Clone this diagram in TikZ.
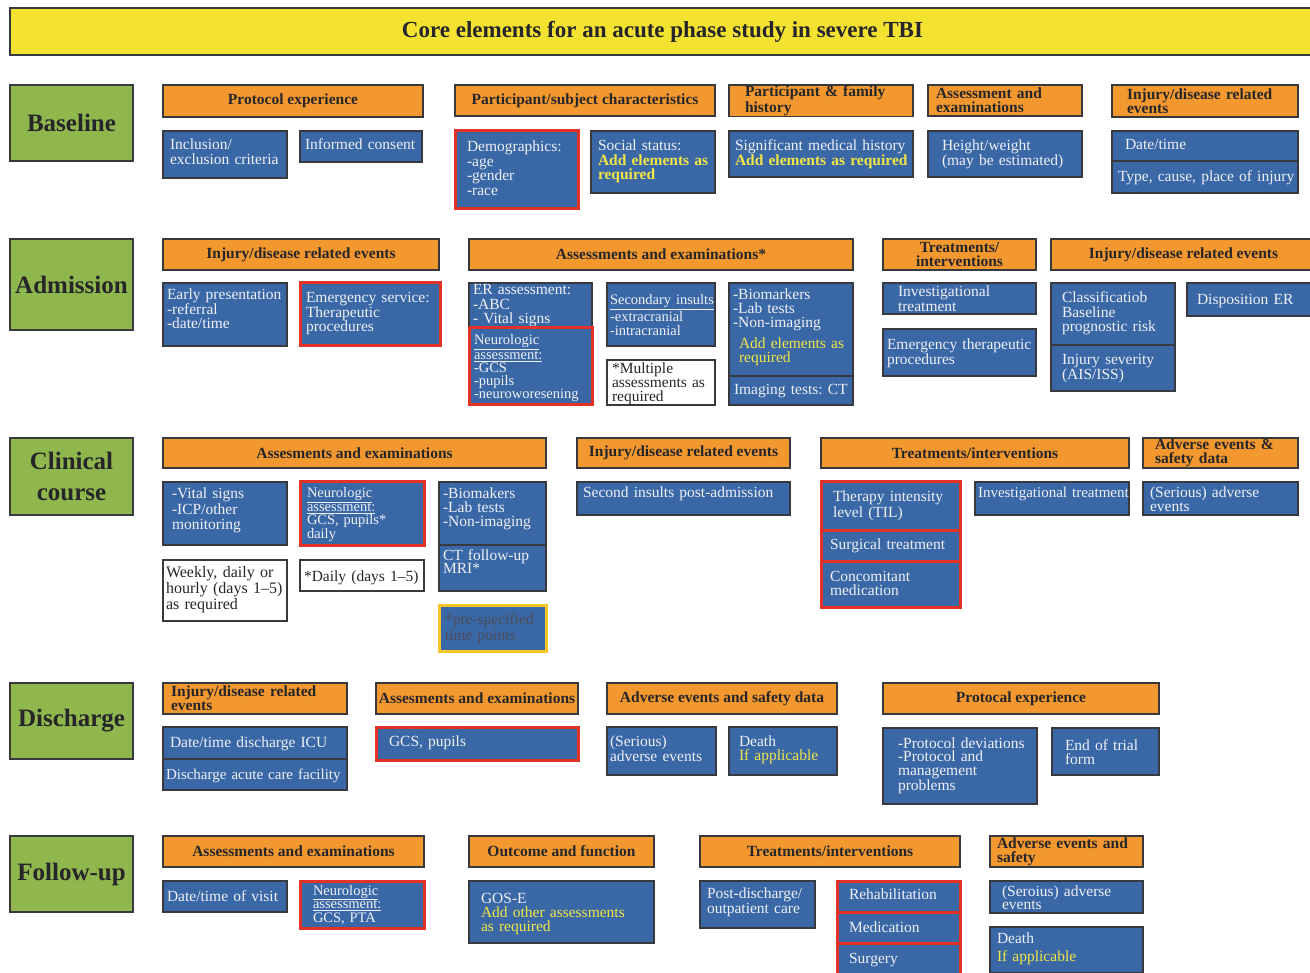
\documentclass[tikz,border=0pt]{standalone}
\usepackage{fontspec}
\setmainfont{Liberation Serif}
\usepackage{tikz}
\usetikzlibrary{positioning}

\definecolor{titleyellow}{RGB}{244,226,48}
\definecolor{phasegreen}{RGB}{143,183,77}
\definecolor{hdrorange}{RGB}{242,152,46}
\definecolor{cellblue}{RGB}{58,104,166}
\definecolor{markred}{RGB}{228,50,40}
\definecolor{addyellow}{RGB}{242,230,70}
\definecolor{timeyellow}{RGB}{246,198,40}
\definecolor{edgegray}{RGB}{55,57,62}
\definecolor{inkdark}{RGB}{38,38,42}
\definecolor{inkgray}{RGB}{75,78,88}
\definecolor{inkwhite}{RGB}{238,240,246}

\tikzset{
    titlebar/.style={draw=edgegray, line width=1.5pt, fill=titleyellow, anchor=north west, minimum width=1305pt, minimum height=47pt, font=\fontsize{23}{28}\selectfont\bfseries, text=inkdark, outer sep=0pt},
    phase/.style={draw=edgegray, line width=1.2pt, fill=phasegreen, anchor=north west, minimum width=123pt, minimum height=#1pt, font=\fontsize{25}{31}\selectfont\bfseries, text=inkdark, align=center, inner sep=1pt, outer sep=0pt},
    hdr/.style 2 args={draw=edgegray, line width=1.2pt, fill=hdrorange, anchor=north west, minimum width=#1pt, minimum height=#2pt, font=\fontsize{15.5}{14}\selectfont\bfseries, text=inkdark, align=center, inner xsep=2pt, inner ysep=1pt, outer sep=0pt},
    cell/.style n args={3}{draw=edgegray, line width=1.2pt, fill=cellblue, anchor=north west, minimum width=#1pt, text width=#1pt-6pt, align=left, text height=#3pt, text depth=#2pt-#3pt-6pt, inner xsep=0pt, inner ysep=3pt, font=\fontsize{15.5}{14.5}\selectfont, text=inkwhite, outer sep=0pt, lpad=0},
    lpad/.style={execute at begin node={\frenchspacing\leftskip=#1pt\rightskip=-40pt plus 1fil\hyphenpenalty=10000}},
    marked/.style={draw=markred, line width=3pt},
    plain/.style={fill=white, text=inkdark},
    timed/.style={draw=timeyellow, line width=3pt, text=inkgray}
}

\begin{document}
\begin{tikzpicture}[x=1pt, y=-1pt]
        \fill[white] (0,0) rectangle (1310,973);
        \useasboundingbox (0,0) rectangle (1310,973);
        \node[titlebar] (title) at (10,8) {Core elements for an acute phase study in severe TBI};
        \node[phase=76] (base) at (10,85) {Baseline};
        \node[phase=91] (adm) at (10,239) {Admission};
        \node[phase=77] (clin) at (10,438) {Clinical\\course};
        \node[phase=76] (dis) at (10,683) {Discharge};
        \node[phase=76] (fup) at (10,836) {Follow-up};

        \node[hdr={260}{32}] (bprot) at (163,85) {Protocol experience};
        \node[cell={124}{47}{16}, lpad=4] (bincl) at (163,131) {Inclusion/\\exclusion criteria};
        \node[cell={122}{31}{16}, lpad=2] (bcons) at (300,131) {Informed consent};
        \node[hdr={260}{31}] (bpart) at (455,85) {Participant/subject characteristics};
        \node[cell={123}{78}{18}, marked, lpad=9] (bdemo) at (455,131) {Demographics:\\-age\\-gender\\-race};
        \node[cell={124}{62}{17}, lpad=4] (bsoc) at (591,131) {Social status:\\{\bfseries\color{addyellow}Add elements as\\required}};
        \node[hdr={184}{31}, text width=152pt, align=left] (bfam) at (729,85) {Participant \& family\\history};
        \node[cell={184}{46}{17}, lpad=3] (bhist) at (729,131) {Significant medical history\\{\bfseries\color{addyellow}Add elements as required}};
        \node[hdr={154}{31}, text width=138pt, align=left] (bass) at (928,85) {Assessment and\\examinations};
        \node[cell={154}{46}{17}, lpad=11] (bhw) at (928,131) {Height/weight\\(may be estimated)};
        \node[hdr={186}{32}, text width=156pt, align=left] (binj) at (1112,85) {Injury/disease related\\events};
        \node[cell={186}{30}{16}, lpad=10] (bdate) at (1112,131) {Date/time};
        \node[cell={186}{32}{18}, lpad=3, below=0pt of bdate] (btype) {Type, cause, place of injury};

        \node[hdr={276}{31}] (ainj) at (163,239) {Injury/disease related events};
        \node[cell={124}{63}{14}, lpad=1] (aearly) at (163,283) {Early presentation\\-referral\\-date/time};
        \node[cell={140}{63}{17}, marked, lpad=3] (aemerg) at (300,283) {Emergency service:\\Therapeutic\\procedures};
        \node[hdr={384}{31}] (aass) at (469,239) {Assessments and examinations*};
        \node[cell={123}{45}{9}, lpad=1] (aer) at (469,283) {ER assessment:\\-ABC\\- Vital signs};
        \node[cell={123}{77}{14}, marked, lpad=2, font=\fontsize{14.5}{13.2}\selectfont, below=0pt of aer] (aneuro) {\underline{Neurologic}\\\underline{assessment:}\\-GCS\\-pupils\\-neuroworesening};
        \node[cell={108}{63}{19}, lpad=0, font=\fontsize{14.5}{14}\selectfont] (asec) at (607,283) {\underline{Secondary insults}\\-extracranial\\-intracranial};
        \node[cell={108}{45}{11}, plain, lpad=2, font=\fontsize{15.5}{14}\selectfont] (amult) at (607,360) {*Multiple\\assessments as\\required};
        \node[cell={124}{93}{14}, lpad=1, font=\fontsize{15.5}{14}\selectfont] (abio) at (729,283) {-Biomarkers\\-Lab tests\\-Non-imaging\\[5pt]\hspace*{6pt}{\color{addyellow}Add elements as\\\hspace*{6pt}required}};
        \node[cell={124}{29}{16}, lpad=2, below=0pt of abio] (aimg) {Imaging tests: CT};
        \node[hdr={153}{31}] (atreat) at (883,239) {Treatments/\\interventions};
        \node[cell={153}{31}{11}, lpad=12] (ainv) at (883,283) {Investigational\\treatment};
        \node[cell={153}{47}{18}, lpad=1] (aemth) at (883,329) {Emergency therapeutic\\procedures};
        \node[hdr={265}{31}] (ainj2) at (1051,239) {Injury/disease related events};
        \node[cell={124}{62}{17}, lpad=8] (acls) at (1051,283) {Classificatiob\\Baseline\\prognostic risk};
        \node[cell={124}{46}{17}, lpad=8, below=0pt of acls] (asev) {Injury severity\\(AIS/ISS)};
        \node[cell={130}{33}{19}, lpad=7] (adisp) at (1187,283) {Disposition ER};

        \node[hdr={383}{30}] (cass) at (163,438) {Assesments and examinations};
        \node[cell={124}{63}{14}, lpad=6, font=\fontsize{15.5}{15.5}\selectfont] (cvit) at (163,482) {-Vital signs\\-ICP/other\\monitoring};
        \node[cell={124}{63}{13}, marked, lpad=4, font=\fontsize{14.5}{13.5}\selectfont] (cneuro) at (300,482) {\underline{Neurologic}\\\underline{assessment:}\\GCS, pupils*\\daily};
        \node[cell={107}{63}{14}, lpad=1, font=\fontsize{15.5}{14}\selectfont] (cbio) at (439,482) {-Biomakers\\-Lab tests\\-Non-imaging};
        \node[cell={107}{46}{12}, lpad=1, font=\fontsize{15.5}{13.5}\selectfont, below=0pt of cbio] (cct) {CT follow-up\\MRI*};
        \node[cell={124}{61}{14}, plain, lpad=0, font=\fontsize{16}{16}\selectfont] (cweek) at (163,560) {Weekly, daily or\\hourly (days 1--5)\\as required};
        \node[cell={124}{31}{18}, plain, lpad=1, font=\fontsize{15.5}{16}\selectfont] (cdaily) at (300,560) {*Daily (days 1--5)};
        \node[cell={107}{46}{16}, timed, lpad=3, font=\fontsize{15.5}{16}\selectfont] (cpre) at (439,605) {*pre-specified\\time points};
        \node[hdr={213}{30}] (cinj) at (577,438) {Injury/disease related events};
        \node[cell={213}{33}{13}, lpad=3] (csec) at (577,482) {Second insults post-admission};
        \node[hdr={308}{30}] (ctreat) at (821,438) {Treatments/interventions};
        \node[cell={139}{48}{17}, marked, lpad=9, font=\fontsize{15.5}{14}\selectfont] (ctil) at (821,482) {Therapy intensity\\level (TIL)};
        \node[cell={139}{31}{16}, marked, lpad=6, below=0pt of ctil] (csurg) {Surgical treatment};
        \node[cell={139}{46}{17}, marked, lpad=6, font=\fontsize{15.5}{14}\selectfont, below=0pt of csurg] (cconc) {Concomitant\\medication};
        \node[cell={154}{33}{13}, lpad=0, font=\fontsize{15}{14}\selectfont] (cinv) at (975,482) {Investigational treatment};
        \node[hdr={155}{30}, text width=131pt, align=left] (cadv) at (1143,438) {Adverse events \&\\safety data};
        \node[cell={155}{33}{12}, lpad=4, font=\fontsize{15.5}{14}\selectfont] (cser) at (1143,482) {(Serious) adverse\\events};

        \node[hdr={184}{31}, text width=168pt, align=left] (dinj) at (163,683) {Injury/disease related\\events};
        \node[cell={184}{32}{17}, lpad=4] (dicu) at (163,727) {Date/time discharge ICU};
        \node[cell={184}{31}{17}, lpad=0, font=\fontsize{15}{14}\selectfont, below=0pt of dicu] (dacf) {Discharge acute care facility};
        \node[hdr={202}{31}] (dass) at (376,683) {Assesments and examinations};
        \node[cell={202}{33}{16}, marked, lpad=10] (dgcs) at (376,727) {GCS, pupils};
        \node[hdr={230}{31}] (dadv) at (607,683) {Adverse events and safety data};
        \node[cell={109}{48}{16}, lpad=0, font=\fontsize{15.5}{13.5}\selectfont] (dser) at (607,727) {(Serious)\\adverse events};
        \node[cell={108}{48}{16}, lpad=7, font=\fontsize{15.5}{14}\selectfont] (ddeath) at (729,727) {Death\\{\color{addyellow}If applicable}};
        \node[hdr={276}{31}] (dprot) at (883,683) {Protocal experience};
        \node[cell={154}{76}{17}, lpad=12, font=\fontsize{15.5}{13.5}\selectfont] (ddev) at (883,728) {-Protocol deviations\\-Protocol and\\management\\problems};
        \node[cell={107}{47}{19}, lpad=10, font=\fontsize{15.5}{14}\selectfont] (dend) at (1052,728) {End of trial\\form};

        \node[hdr={261}{31}] (fass) at (163,836) {Assessments and examinations};
        \node[cell={124}{31}{17}, lpad=1] (fvis) at (163,881) {Date/time of visit};
        \node[cell={124}{47}{11}, marked, lpad=10, font=\fontsize{14.5}{13.5}\selectfont] (fneuro) at (300,881) {\underline{Neurologic}\\\underline{assessment:}\\GCS, PTA};
        \node[hdr={185}{31}] (fout) at (469,836) {Outcome and function};
        \node[cell={185}{62}{19}, lpad=9, font=\fontsize{15.5}{14}\selectfont] (fgos) at (469,881) {GOS-E\\{\color{addyellow}Add other assessments\\as required}};
        \node[hdr={260}{31}] (ftreat) at (700,836) {Treatments/interventions};
        \node[cell={115}{47}{14}, lpad=4, font=\fontsize{15.5}{15.5}\selectfont] (fpost) at (700,881) {Post-discharge/\\outpatient care};
        \node[cell={123}{31}{15}, marked, lpad=9] (frehab) at (837,881) {Rehabilitation};
        \node[cell={123}{31}{17}, marked, lpad=9, below=0pt of frehab] (fmed) {Medication};
        \node[cell={123}{31}{17}, marked, lpad=9, below=0pt of fmed] (fsurg) {Surgery};
        \node[hdr={153}{31}, text width=139pt, align=left] (fadv) at (990,836) {Adverse events and\\safety};
        \node[cell={153}{32}{12}, lpad=9, font=\fontsize{15.5}{13}\selectfont] (fser) at (990,881) {(Seroius) adverse\\events};
        \node[cell={153}{46}{13}, lpad=4, font=\fontsize{15.5}{15}\selectfont] (fdeath) at (990,927) {Death\\[3pt]{\color{addyellow}If applicable}};
\end{tikzpicture}
\end{document}
